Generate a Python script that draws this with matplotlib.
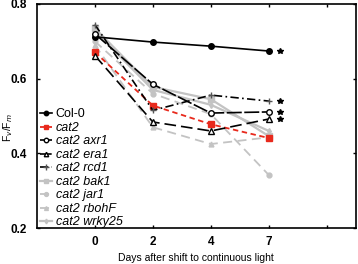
import matplotlib
matplotlib.use("Agg")
import matplotlib.pyplot as plt

plt.rcParams['font.family'] = ['Liberation Sans', 'DejaVu Sans']

days = [0, 2, 4, 7]
pos = [0, 2, 4, 6]

col0 = [0.712, 0.698, 0.687, 0.674]
cat2 = [0.671, 0.528, 0.478, 0.441]
axr1 = [0.720, 0.585, 0.508, 0.511]
era1 = [0.662, 0.484, 0.460, 0.492]
rcd1 = [0.745, 0.515, 0.556, 0.540]
bak1 = [0.735, 0.578, 0.545, 0.446]
jar1 = [0.700, 0.560, 0.505, 0.342]
rbohf = [0.690, 0.470, 0.425, 0.443]
wrky25 = [0.728, 0.570, 0.530, 0.460]

star_y = [0.674, 0.540, 0.511, 0.492]

fig = plt.figure(figsize=(3.58, 2.64), dpi=100)
ax = fig.add_axes([0.103, 0.136, 0.891, 0.849])

gray = "#c3c3c3"
ax.plot(pos, bak1, color=gray, lw=1.6, marker="s", ms=4, label="cat2 bak1")
ax.plot(pos, jar1, color=gray, lw=1.3, ls=(0, (5, 3)), marker="o", ms=3.5, label="cat2 jar1")
ax.plot(pos, rbohf, color=gray, lw=1.3, ls=(0, (5, 3)), marker="^", ms=3.5, label="cat2 rbohF")
ax.plot(pos, wrky25, color=gray, lw=1.6, marker="d", ms=3, label="cat2 wrky25")
ax.plot(pos, col0, color="black", lw=1.2, marker="o", ms=4, label="Col-0")
ax.plot(pos, cat2, color="#e8291c", lw=1.3, ls=(0, (3, 2)), marker="s", ms=4, label="cat2")
ax.plot(pos, axr1, color="black", lw=1.2, ls=(0, (9, 1.5)), marker="o", ms=4,
        mfc="white", label="cat2 axr1")
ax.plot(pos, era1, color="black", lw=1.2, ls=(0, (7, 3)), marker="^", ms=4,
        mfc="white", label="cat2 era1")
ax.plot(pos, rcd1, color="black", lw=1.2, ls=(0, (5, 2, 1, 2)), marker="+", ms=5,
        mec="#555555", label="cat2 rcd1")

ax.plot([6.38] * len(star_y), star_y, ls="none", marker="*", ms=4, color="black")

ax.set_xlim(-2, 9)
ax.set_ylim(0.2, 0.8)
ax.set_xticks([0, 2, 4, 6, 8])
ax.set_xticklabels(["0", "2", "4", "7", ""])
ax.set_yticks([0.2, 0.4, 0.6, 0.8])
ax.set_yticklabels(["0.2", "0.4", "0.6", "0.8"])
ax.tick_params(direction="in", top=True, right=True, length=2.5, width=1,
               labelsize=8.5)
ax.tick_params(axis="x", pad=6)
ax.tick_params(axis="y", pad=7)
for lab in ax.get_xticklabels() + ax.get_yticklabels():
    lab.set_fontweight("bold")
for sp in ax.spines.values():
    sp.set_linewidth(1.2)

ax.set_xlabel("Days after shift to continuous light", fontsize=7.5)
ax.xaxis.set_label_coords(0.5, -0.112)
ax.set_ylabel("F$_v$/F$_m$", fontsize=7.5)
ax.yaxis.set_label_coords(-0.07, 0.45)

handles, labels = ax.get_legend_handles_labels()
order = ["Col-0", "cat2", "cat2 axr1", "cat2 era1", "cat2 rcd1",
         "cat2 bak1", "cat2 jar1", "cat2 rbohF", "cat2 wrky25"]
hmap = dict(zip(labels, handles))
leg = ax.legend([hmap[k] for k in order], order, loc="lower left",
                bbox_to_anchor=(-0.015, -0.035), frameon=False, fontsize=9,
                handlelength=1.0, handletextpad=0.3, labelspacing=0.12,
                borderaxespad=0.2, markerscale=0.8)
for t in leg.get_texts():
    if t.get_text() != "Col-0":
        t.set_fontstyle("italic")

fig.savefig("out.png", dpi=100)
